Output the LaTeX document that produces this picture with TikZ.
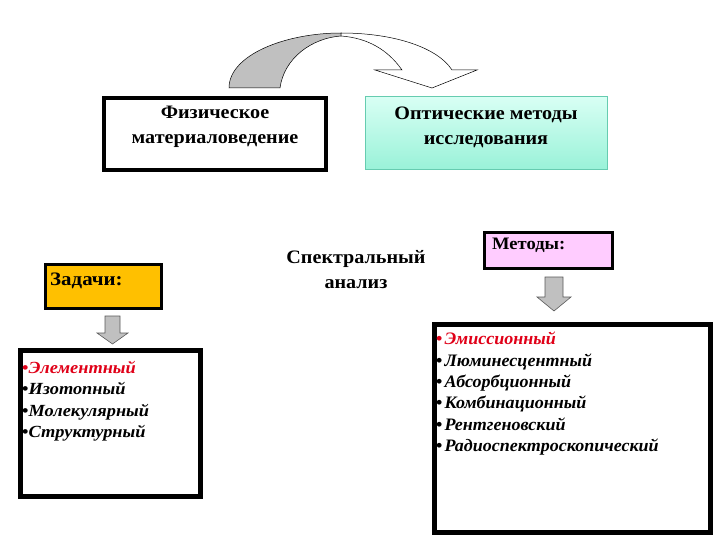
\documentclass[tikz,border=0pt]{standalone}
\usepackage{fontspec}
\setmainfont{Liberation Serif}
\newfontfamily\wideA[FakeStretch=1.06]{Liberation Serif}
\newfontfamily\wideB[FakeStretch=1.10]{Liberation Serif}
\newfontfamily\wideC[FakeStretch=1.08]{Liberation Serif}
\newfontfamily\wideD[FakeStretch=1.03]{Liberation Serif}
\definecolor{orng}{HTML}{FFC000}
\definecolor{pinkf}{HTML}{FFCCFF}
\definecolor{cyantop}{HTML}{D8FFF4}
\definecolor{cyanbot}{HTML}{99F2D8}
\definecolor{cyanbd}{HTML}{66CCB0}
\definecolor{arrg}{HTML}{C0C0C0}
\definecolor{itred}{HTML}{E00018}
\tikzset{
  thickbox/.style={draw=black, line width=4pt, fill=white},
  head/.style={font=\wideA\bfseries\fontsize{19}{25}\selectfont, align=center, inner sep=0pt},
  leftlist/.style={font=\wideC\bfseries\itshape\fontsize{17}{21.4}\selectfont, align=left, anchor=north west, inner sep=0pt},
  rightlist/.style={font=\wideD\bfseries\itshape\fontsize{17.5}{21.3}\selectfont, align=left, anchor=north west, inner sep=0pt},
  downarr/.style={draw=gray!70!black, fill=arrg, line width=0.6pt}
}
\begin{document}
\begin{tikzpicture}[x=1pt,y=-1pt]
\useasboundingbox (0,0) rectangle (720,540);
% curved arrow
\fill[arrg, draw=black, line width=0.5pt] (229,88) .. controls (229,55) and (285,33) .. (341,33)
   -- (341,36) .. controls (312,38) and (284,58) .. (280,88) -- cycle;
\draw[fill=white, line width=0.5pt] (341,33) .. controls (395,33) and (438,48) .. (452,70)
   -- (477,70) -- (432,88) -- (375,70) -- (402,70)
   .. controls (388,50) and (368,38) .. (341,36) -- cycle;
% top boxes
\node[thickbox, minimum width=222pt, minimum height=72pt] (phys) at (215,134.5) {};
\node[head] (physt) at (215,127) {Физическое\\материаловедение};
\node[draw=cyanbd, line width=1pt, top color=cyantop, bottom color=cyanbot, minimum width=242pt, minimum height=73pt] (opt) at (486,133.5) {};
\node[head] (optt) at (486,127) {Оптические методы\\исследования};
% Задачи
\node[draw=black, line width=3pt, fill=orng, minimum width=116pt, minimum height=44pt, anchor=north west] (tasks) at (44,263) {};
\node[font=\wideB\bfseries\fontsize{19}{20}\selectfont, anchor=west, inner sep=0pt] (taskst) at (50,281) {Задачи:};
% spectral analysis
\node[head] (spec) at (356,270) {Спектральный\\анализ};
% Методы
\node[draw=black, line width=2.5pt, fill=pinkf, minimum width=128pt, minimum height=36pt, anchor=north west] (meth) at (483,231) {};
\node[font=\wideA\bfseries\fontsize{17.5}{20}\selectfont, anchor=west, inner sep=0pt] (metht) at (492,245) {Методы:};
% down arrows
\draw[downarr] (105,316) -- (120,316) -- (120,333) -- (128,333) -- (112.5,344) -- (97,333) -- (105,333) -- cycle;
\draw[downarr] (545,277) -- (563,277) -- (563,297) -- (571,297) -- (554,311) -- (537,297) -- (545,297) -- cycle;
% list boxes
\node[thickbox, line width=5pt, minimum width=180pt, minimum height=146pt, anchor=north west] (lbox) at (18,348) {};
\node[leftlist] (ltxt) at (22,361) {{\color{itred}\upshape•}{\color{itred}Элементный}\\\upshape•\itshape Изотопный\\\upshape•\itshape Молекулярный\\\upshape•\itshape Структурный};
\node[thickbox, line width=5pt, minimum width=276pt, minimum height=208pt, anchor=north west] (rbox) at (432,322) {};
\node[rightlist] (rtxt) at (436,332) {{\color{itred}\upshape•\kern2pt}{\color{itred}Эмиссионный}\\\upshape•\kern2pt\itshape Люминесцентный\\\upshape•\kern2pt\itshape Абсорбционный\\\upshape•\kern2pt\itshape Комбинационный\\\upshape•\kern2pt\itshape Рентгеновский\\\upshape•\kern2pt\itshape Радиоспектроскопический};
\end{tikzpicture}
\end{document}
